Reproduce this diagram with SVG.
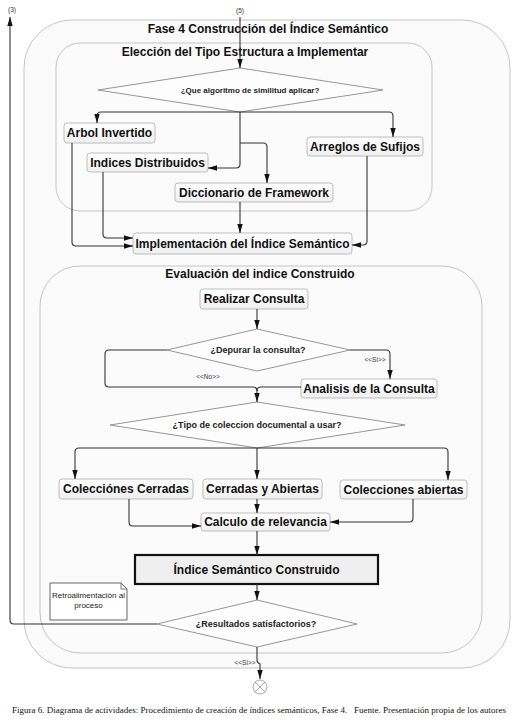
<svg xmlns="http://www.w3.org/2000/svg" width="517" height="727" viewBox="0 0 517 727">
<style>
.cont{fill:#fbfbfb;stroke:#c4c4c4;stroke-width:1}
.box{fill:url(#g);stroke:#bcbcbc;stroke-width:1}
.dia{fill:#fdfdfd;stroke:#8a8a8a;stroke-width:0.9}
.t{font-family:"Liberation Sans",Arial,sans-serif;font-weight:bold;font-size:12px;fill:#111;text-anchor:middle}
.dt{font-family:"Liberation Sans",Arial,sans-serif;font-weight:bold;fill:#222;text-anchor:middle}
.sm{font-family:"Liberation Sans",Arial,sans-serif;font-size:6.5px;fill:#333;text-anchor:middle}
.c{fill:none;stroke:#333;stroke-width:1.1}
</style>
<defs>
<linearGradient id="g" x1="0" y1="0" x2="0" y2="1"><stop offset="0" stop-color="#ffffff"/><stop offset="1" stop-color="#efefef"/></linearGradient>
<marker id="a" viewBox="0 0 10 6" refX="10" refY="3" markerWidth="9" markerHeight="5.4" markerUnits="userSpaceOnUse" orient="auto"><path d="M0,0 L10,3 L0,6 z" fill="#111"/></marker>
</defs>
<rect width="517" height="727" fill="#ffffff"/>
<g id="fase4">
<rect class="cont" x="24" y="20" width="486" height="648" rx="48"/>
<text class="t" x="268" y="33">Fase 4 Construcción del Índice Semántico</text>
</g>
<g id="eleccion">
<rect class="cont" x="56" y="43" width="376" height="168" rx="24"/>
<text class="t" x="245" y="56">Elección del Tipo Estructura a Implementar</text>
</g>
<g id="evaluacion">
<rect class="cont" x="40" y="266" width="442" height="387" rx="40"/>
<text class="t" x="260" y="278">Evaluación del indice Construido</text>
</g>
<g id="d1"><polygon class="dia" points="240,68 383,90 240,112 98,90"/><text class="dt" x="250" y="93" font-size="8">¿Que algoritmo de similitud aplicar?</text></g>
<g id="arbol"><rect class="box" x="64" y="123" width="91" height="20" rx="3"/><text class="t" x="109.5" y="137">Arbol Invertido</text></g>
<g id="indices"><rect class="box" x="87" y="153" width="121" height="19" rx="3"/><text class="t" x="147.5" y="167">Indices Distribuidos</text></g>
<g id="diccionario"><rect class="box" x="175" y="183" width="158" height="19" rx="3"/><text class="t" x="254" y="197">Diccionario de Framework</text></g>
<g id="arreglos"><rect class="box" x="307" y="137" width="116" height="19" rx="3"/><text class="t" x="365" y="151">Arreglos de Sufijos</text></g>
<g id="implementacion"><rect class="box" x="133" y="233" width="219" height="21" rx="3"/><text class="t" x="242.5" y="248">Implementación del Índice Semántico</text></g>
<g id="realizar"><rect class="box" x="200" y="289" width="108" height="20" rx="3"/><text class="t" x="254" y="303">Realizar Consulta</text></g>
<g id="d2"><polygon class="dia" points="257,329 350,350 257,371 167,350"/><text class="dt" x="258" y="353" font-size="9">¿Depurar la consulta?</text></g>
<g id="analisis"><rect class="box" x="301" y="379" width="136" height="19" rx="3"/><text class="t" x="369" y="393">Analisis de la Consulta</text></g>
<g id="d3"><polygon class="dia" points="257,402 405,425 257,448 110,425"/><text class="dt" x="257" y="428" font-size="9">¿Tipo de coleccion documental a usar?</text></g>
<g id="cerradas"><rect class="box" x="59" y="479" width="134" height="20" rx="3"/><text class="t" x="126" y="493">Colecciónes Cerradas</text></g>
<g id="cya"><rect class="box" x="203" y="479" width="119" height="20" rx="3"/><text class="t" x="262.5" y="493">Cerradas y Abiertas</text></g>
<g id="abiertas"><rect class="box" x="340" y="480" width="127" height="19" rx="3"/><text class="t" x="403.5" y="494">Colecciones abiertas</text></g>
<g id="calculo"><rect class="box" x="201" y="513" width="129" height="18" rx="3"/><text class="t" x="265.5" y="526">Calculo de relevancia</text></g>
<g id="indiceConstruido"><rect x="135" y="555" width="243" height="29" fill="#efefef" stroke="#111" stroke-width="2.2"/><text class="t" x="256.5" y="574">Índice Semántico Construido</text></g>
<g id="d4"><polygon class="dia" points="257,600 357,624 257,647 157,624"/><text class="dt" x="256" y="627" font-size="9">¿Resultados satisfactorios?</text></g>
<g id="nota"><path d="M50,583 H121 L127,589 V620 H50 Z" fill="#ffffff" stroke="#555" stroke-width="0.9"/><path d="M121,583 V589 H127" fill="none" stroke="#555" stroke-width="0.8"/><text font-family="Liberation Sans,Arial,sans-serif" font-size="8" fill="#222" text-anchor="middle" x="88.5" y="598">Retroalimentación al</text><text font-family="Liberation Sans,Arial,sans-serif" font-size="8" fill="#222" text-anchor="middle" x="88.5" y="608">proceso</text></g>
<g id="fin"><circle cx="260" cy="687" r="7" fill="#fafafa" stroke="#aaa" stroke-width="1"/><path d="M255,682 L265,692 M265,682 L255,692" stroke="#aaa" stroke-width="1"/></g>
<g id="connectors">
<path class="c" d="M240,17 V68" marker-end="url(#a)"/>
<path class="c" d="M240,112 H101 Q97,112 97,116 V123" marker-end="url(#a)"/>
<path class="c" d="M240,112 H389 Q393,112 393,116 V137" marker-end="url(#a)"/>
<path class="c" d="M240,112 V164 Q240,168 236,168 H208" marker-end="url(#a)"/>
<path class="c" d="M240,143 H263 Q267,143 267,147 V183" marker-end="url(#a)"/>
<path class="c" d="M240,202 V233" marker-end="url(#a)"/>
<path class="c" d="M72,143 V242 Q72,246 76,246 H133" marker-end="url(#a)"/>
<path class="c" d="M103,172 V234 Q103,238 107,238 H133" marker-end="url(#a)"/>
<path class="c" d="M367,156 V241 Q367,245 363,245 H352" marker-end="url(#a)"/>
<path class="c" d="M257,309 V329" marker-end="url(#a)"/>
<path class="c" d="M167,350 H109 Q105,350 105,354 V383 Q105,387 109,387 H253 Q257,387 257,391 V402" marker-end="url(#a)"/>
<path class="c" d="M350,350 H386 Q390,350 390,354 V379" marker-end="url(#a)"/>
<path class="c" d="M301,387 H261 Q257,387 257,391"/>
<path class="c" d="M257,448 H79 Q75,448 75,452 V479" marker-end="url(#a)"/>
<path class="c" d="M257,448 H444 Q448,448 448,452 V480" marker-end="url(#a)"/>
<path class="c" d="M257,448 V479" marker-end="url(#a)"/>
<path class="c" d="M129,499 V522 Q129,526 133,526 H201" marker-end="url(#a)"/>
<path class="c" d="M257,499 V513" marker-end="url(#a)"/>
<path class="c" d="M413,499 V518 Q413,522 409,522 H330" marker-end="url(#a)"/>
<path class="c" d="M257,531 V555" marker-end="url(#a)"/>
<path class="c" d="M257,584 V600" marker-end="url(#a)"/>
<path class="c" d="M157,624 H14 Q10,624 10,620 V17" marker-end="url(#a)"/>
<path class="c" d="M257,647 V660 Q257,663 260,664 V679" marker-end="url(#a)"/>
<text class="sm" x="208" y="379">&lt;&lt;No&gt;&gt;</text>
<text class="sm" x="375" y="362">&lt;&lt;Si&gt;&gt;</text>
<text class="sm" x="245" y="665">&lt;&lt;Si&gt;&gt;</text>
<text class="sm" x="240" y="13">(5)</text>
<text class="sm" x="12" y="12">(3)</text>
</g>
<text font-family="Liberation Serif,Times New Roman,serif" font-size="8.5" fill="#111" x="12" y="713" textLength="494" lengthAdjust="spacingAndGlyphs">Figura 6. Diagrama de actividades: Procedimiento de creación de índices semánticos, Fase 4.&#160;&#160; Fuente. Presentación propia de los autores</text>
</svg>
